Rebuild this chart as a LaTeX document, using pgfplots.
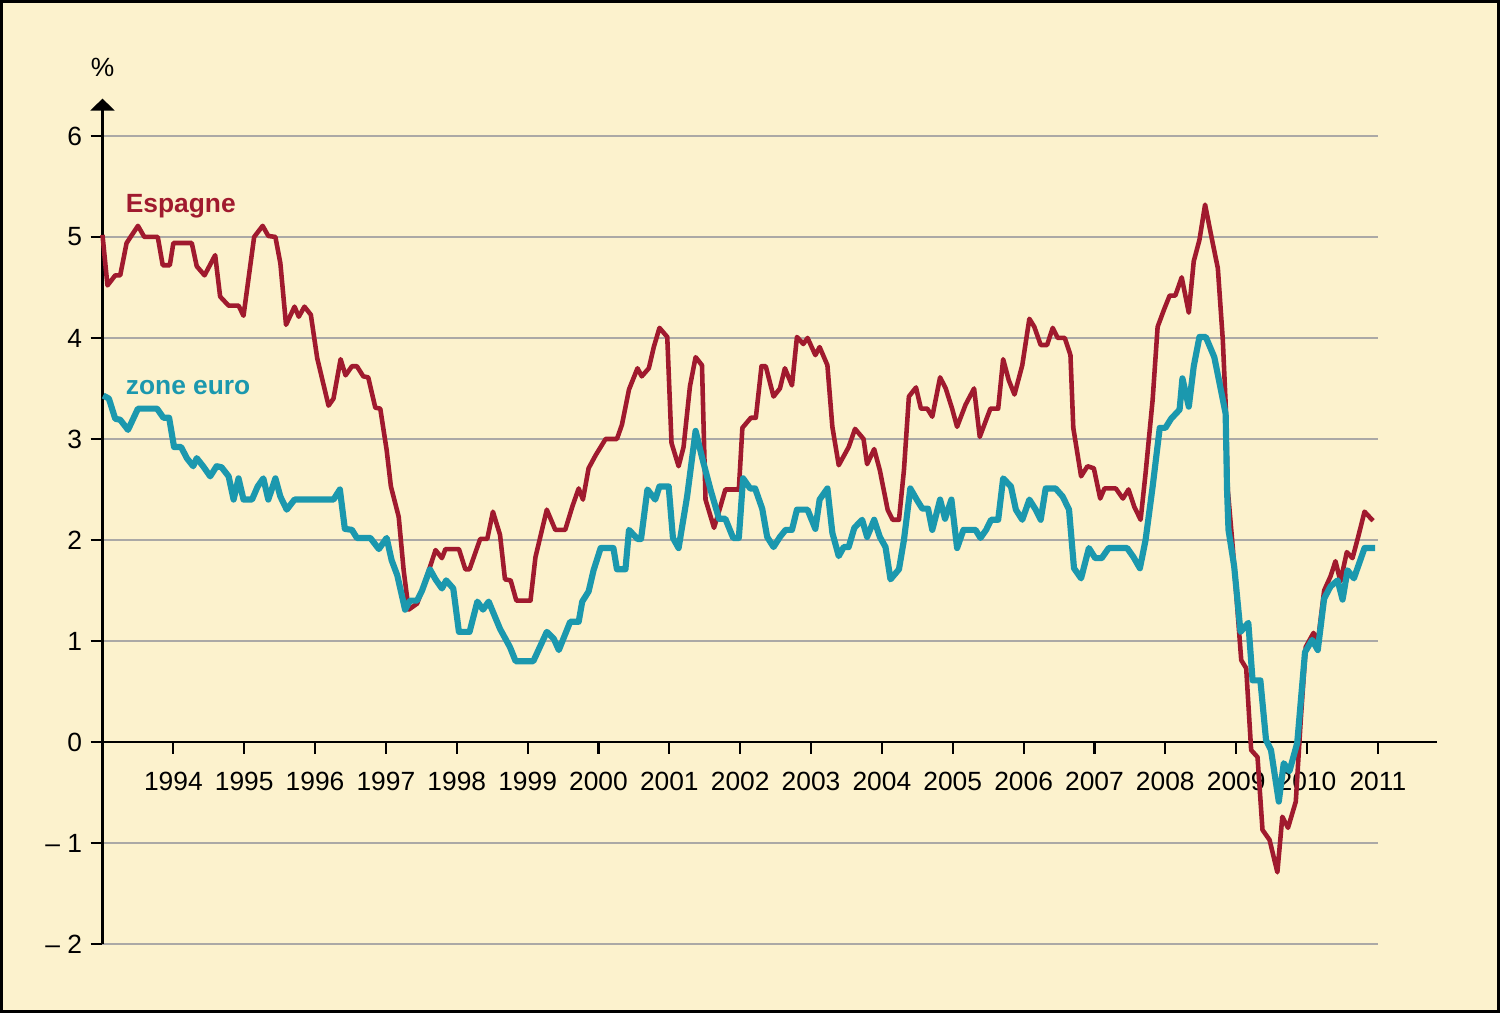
\documentclass[border=0pt]{standalone}
\usepackage{fontspec}
\setmainfont{Liberation Sans}
\usepackage{pgfplots}
\pgfplotsset{compat=1.18}
\usetikzlibrary{arrows.meta}
\definecolor{bg}{HTML}{FCF2CD}
\definecolor{esp}{HTML}{A01A2E}
\definecolor{zone}{HTML}{1B98AE}
\definecolor{gridc}{HTML}{ABA9A6}
\newcommand{\lab}{\fontsize{7.5}{9}\selectfont}
\begin{document}
\begin{tikzpicture}
\useasboundingbox (0,0) rectangle (15,10.13);
\fill[bg] (0,0) rectangle (15,10.13);
\draw[line width=0.03cm] (0.015,0.015) rectangle (14.985,10.115);
\begin{axis}[
  at={(1.025cm,0.69cm)}, anchor=south west,
  width=12.755cm, height=8.454cm, scale only axis,
  xmin=1993, xmax=2011, ymin=-2, ymax=6.37,
  enlargelimits=false, clip=false,
  axis x line=middle, axis y line=left,
  x axis line style={-, line width=0.6pt, shorten >=-0.59cm},
  y axis line style={-{Triangle[width=0.24cm,length=0.12cm]}, line width=0.6pt},
  tick align=outside, major tick length=0.12cm,
  tick style={black, line width=0.6pt},
  xtick={1994,...,2011},
  xticklabels={1994,1995,1996,1997,1998,1999,2000,2001,2002,2003,2004,2005,2006,2007,2008,2009,2010,2011},
  ytick={-2,...,6},
  yticklabels={\textendash\ 2,\textendash\ 1,0,1,2,3,4,5,6},
  ymajorgrids, grid style={gridc, line width=0.6pt},
  tick label style={font=\lab},
  xticklabel style={yshift=-0.06cm},
  yticklabel style={xshift=0.04cm},
  every axis plot/.append style={line join=round, mark=none},
]
\addplot[esp, line width=1.3pt] coordinates {
(1993.00,5.02) (1993.07,4.52) (1993.18,4.62) (1993.25,4.62) (1993.34,4.94) (1993.50,5.11)
(1993.59,5.00) (1993.78,5.00) (1993.85,4.72) (1993.95,4.72) (1994.00,4.94) (1994.26,4.94)
(1994.33,4.71) (1994.44,4.62) (1994.59,4.82) (1994.66,4.41) (1994.78,4.32) (1994.92,4.32)
(1994.99,4.22) (1995.14,5.00) (1995.26,5.11) (1995.34,5.01) (1995.44,5.00) (1995.51,4.74)
(1995.59,4.13) (1995.71,4.31) (1995.77,4.21) (1995.85,4.31) (1995.94,4.23) (1996.03,3.80)
(1996.19,3.33) (1996.26,3.40) (1996.36,3.79) (1996.43,3.63) (1996.52,3.72) (1996.59,3.72)
(1996.68,3.62) (1996.75,3.61) (1996.85,3.31) (1996.92,3.30) (1997.01,2.89) (1997.07,2.53)
(1997.18,2.23) (1997.25,1.70) (1997.32,1.31) (1997.44,1.37) (1997.53,1.54) (1997.70,1.90)
(1997.79,1.82) (1997.84,1.91) (1998.03,1.91) (1998.12,1.71) (1998.18,1.71) (1998.33,2.01)
(1998.43,2.01) (1998.51,2.28) (1998.61,2.05) (1998.68,1.61) (1998.76,1.60) (1998.84,1.40)
(1999.04,1.40) (1999.11,1.83) (1999.27,2.30) (1999.39,2.10) (1999.53,2.10) (1999.63,2.33)
(1999.72,2.51) (1999.78,2.40) (1999.86,2.71) (1999.96,2.84) (2000.10,3.00) (2000.26,3.00)
(2000.33,3.14) (2000.43,3.49) (2000.55,3.70) (2000.61,3.62) (2000.71,3.70) (2000.78,3.91)
(2000.86,4.10) (2000.97,4.01) (2001.03,2.96) (2001.13,2.73) (2001.20,2.92) (2001.29,3.52)
(2001.37,3.81) (2001.46,3.73) (2001.51,2.40) (2001.63,2.12) (2001.72,2.33) (2001.79,2.50)
(2001.98,2.50) (2002.03,3.11) (2002.15,3.21) (2002.22,3.21) (2002.30,3.72) (2002.36,3.72)
(2002.47,3.42) (2002.56,3.50) (2002.63,3.70) (2002.73,3.53) (2002.80,4.01) (2002.89,3.94)
(2002.95,4.00) (2003.06,3.83) (2003.12,3.91) (2003.23,3.73) (2003.30,3.12) (2003.39,2.74)
(2003.53,2.92) (2003.62,3.10) (2003.74,3.00) (2003.79,2.75) (2003.89,2.90) (2003.97,2.69)
(2004.08,2.30) (2004.15,2.20) (2004.24,2.20) (2004.31,2.69) (2004.38,3.42) (2004.48,3.51)
(2004.55,3.30) (2004.64,3.30) (2004.71,3.22) (2004.82,3.61) (2004.90,3.50) (2004.99,3.30)
(2005.06,3.12) (2005.18,3.34) (2005.30,3.50) (2005.38,3.02) (2005.46,3.17) (2005.53,3.30)
(2005.64,3.30) (2005.71,3.79) (2005.79,3.58) (2005.87,3.44) (2005.98,3.73) (2006.08,4.19)
(2006.15,4.11) (2006.24,3.93) (2006.33,3.93) (2006.41,4.10) (2006.48,4.00) (2006.58,4.00)
(2006.66,3.83) (2006.70,3.11) (2006.81,2.63) (2006.90,2.73) (2006.99,2.71) (2007.08,2.41)
(2007.14,2.51) (2007.30,2.51) (2007.40,2.41) (2007.48,2.50) (2007.56,2.33) (2007.65,2.20)
(2007.72,2.66) (2007.82,3.39) (2007.89,4.11) (2007.98,4.28) (2008.06,4.42) (2008.14,4.42)
(2008.23,4.60) (2008.33,4.25) (2008.40,4.76) (2008.48,4.97) (2008.56,5.32) (2008.65,5.00)
(2008.74,4.69) (2008.81,3.98) (2008.85,3.35) (2008.88,2.50) (2008.95,1.93) (2009.07,0.81)
(2009.14,0.73) (2009.21,-0.08) (2009.30,-0.15) (2009.37,-0.87) (2009.47,-0.97) (2009.58,-1.29)
(2009.65,-0.74) (2009.73,-0.85) (2009.84,-0.59) (2009.91,0.22) (2009.98,0.94) (2010.09,1.08)
(2010.15,0.98) (2010.24,1.50) (2010.33,1.64) (2010.40,1.79) (2010.47,1.59) (2010.56,1.88)
(2010.64,1.82) (2010.72,2.03) (2010.81,2.28) (2010.93,2.19)
};
\addplot[zone, line width=1.75pt] coordinates {
(1993.01,3.43) (1993.09,3.40) (1993.18,3.20) (1993.25,3.19) (1993.36,3.09) (1993.50,3.30)
(1993.77,3.30) (1993.86,3.21) (1993.94,3.21) (1994.01,2.92) (1994.11,2.92) (1994.19,2.81)
(1994.28,2.73) (1994.33,2.81) (1994.42,2.73) (1994.52,2.63) (1994.61,2.73) (1994.68,2.72)
(1994.78,2.63) (1994.85,2.40) (1994.92,2.61) (1994.99,2.40) (1995.11,2.40) (1995.19,2.53)
(1995.27,2.61) (1995.34,2.40) (1995.44,2.61) (1995.51,2.43) (1995.60,2.30) (1995.71,2.40)
(1996.26,2.40) (1996.35,2.50) (1996.42,2.11) (1996.52,2.10) (1996.59,2.02) (1996.78,2.02)
(1996.90,1.91) (1997.01,2.02) (1997.08,1.80) (1997.16,1.65) (1997.27,1.31) (1997.34,1.40)
(1997.44,1.40) (1997.51,1.50) (1997.62,1.71) (1997.70,1.61) (1997.79,1.52) (1997.85,1.60)
(1997.95,1.52) (1998.03,1.09) (1998.18,1.09) (1998.29,1.39) (1998.37,1.31) (1998.45,1.39)
(1998.61,1.12) (1998.75,0.94) (1998.83,0.80) (1999.08,0.80) (1999.27,1.09) (1999.37,1.02)
(1999.44,0.91) (1999.60,1.19) (1999.72,1.19) (1999.77,1.39) (1999.86,1.49) (1999.93,1.70)
(2000.03,1.92) (2000.21,1.92) (2000.26,1.71) (2000.38,1.71) (2000.43,2.10) (2000.55,2.01)
(2000.60,2.01) (2000.69,2.50) (2000.80,2.40) (2000.86,2.53) (2000.99,2.53) (2001.05,2.02)
(2001.13,1.92) (2001.25,2.43) (2001.37,3.08) (2001.46,2.82) (2001.58,2.50) (2001.70,2.21)
(2001.79,2.21) (2001.90,2.02) (2001.98,2.02) (2002.04,2.61) (2002.14,2.51) (2002.21,2.51)
(2002.31,2.31) (2002.38,2.03) (2002.47,1.93) (2002.56,2.03) (2002.64,2.10) (2002.73,2.10)
(2002.80,2.30) (2002.95,2.30) (2003.06,2.11) (2003.12,2.40) (2003.23,2.51) (2003.30,2.07)
(2003.39,1.84) (2003.46,1.93) (2003.53,1.93) (2003.61,2.12) (2003.72,2.20) (2003.79,2.03)
(2003.89,2.20) (2003.97,2.03) (2004.05,1.93) (2004.12,1.61) (2004.24,1.71) (2004.31,2.00)
(2004.40,2.51) (2004.49,2.40) (2004.57,2.31) (2004.65,2.31) (2004.71,2.10) (2004.82,2.40)
(2004.89,2.21) (2004.98,2.40) (2005.06,1.92) (2005.15,2.10) (2005.32,2.10) (2005.39,2.02)
(2005.47,2.10) (2005.54,2.20) (2005.64,2.20) (2005.71,2.61) (2005.82,2.53) (2005.89,2.30)
(2005.98,2.20) (2006.08,2.40) (2006.17,2.30) (2006.24,2.20) (2006.31,2.51) (2006.45,2.51)
(2006.55,2.43) (2006.64,2.30) (2006.71,1.72) (2006.81,1.62) (2006.92,1.92) (2007.01,1.82)
(2007.10,1.82) (2007.20,1.92) (2007.46,1.92) (2007.55,1.83) (2007.64,1.72) (2007.72,2.00)
(2007.82,2.53) (2007.92,3.11) (2008.00,3.11) (2008.08,3.20) (2008.20,3.29) (2008.24,3.60)
(2008.33,3.32) (2008.40,3.72) (2008.48,4.01) (2008.57,4.01) (2008.69,3.81) (2008.85,3.25)
(2008.87,2.49) (2008.89,2.10) (2008.97,1.74) (2009.06,1.09) (2009.17,1.18) (2009.23,0.61)
(2009.34,0.61) (2009.42,0.02) (2009.49,-0.08) (2009.60,-0.59) (2009.67,-0.21) (2009.75,-0.29)
(2009.86,-0.01) (2009.97,0.89) (2010.07,1.01) (2010.15,0.91) (2010.24,1.42) (2010.33,1.54)
(2010.43,1.60) (2010.50,1.41) (2010.57,1.70) (2010.66,1.62) (2010.81,1.92) (2010.96,1.92)
};
\node[anchor=west, inner sep=0pt, font=\bfseries\lab, text=esp] at (axis cs:1993.32,5.30) {Espagne};
\node[anchor=west, inner sep=0pt, font=\bfseries\lab, text=zone] at (axis cs:1993.32,3.51) {zone euro};
\node[inner sep=0pt, font=\lab] at (axis cs:1993,6.68) {\%};
\end{axis}
\end{tikzpicture}
\end{document}
